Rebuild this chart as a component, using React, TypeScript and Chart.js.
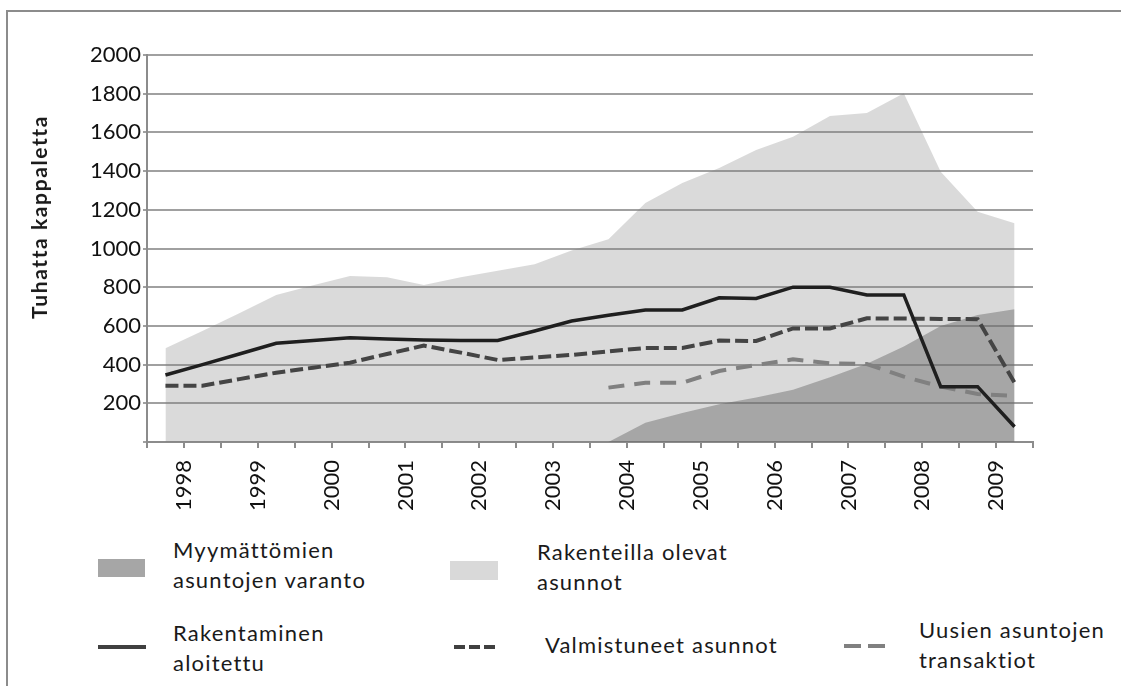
import React, { useEffect, useRef } from 'react';
import { Chart, registerables } from 'chart.js';

Chart.register(...registerables);

// Half-year periods, 1998 H1 ... 2009 H2
const periods = [
  '1998/1', '1998/2', '1999/1', '1999/2', '2000/1', '2000/2', '2001/1', '2001/2',
  '2002/1', '2002/2', '2003/1', '2003/2', '2004/1', '2004/2', '2005/1', '2005/2',
  '2006/1', '2006/2', '2007/1', '2007/2', '2008/1', '2008/2', '2009/1', '2009/2',
];
const yearLabels = ['1998', '1999', '2000', '2001', '2002', '2003', '2004', '2005', '2006', '2007', '2008', '2009'];

// Rakenteilla olevat asunnot (light area)
const underConstruction = [484, 574, 666, 760, 810, 858, 852, 811, 852, 885, 918, 990, 1048, 1235, 1338, 1416, 1509, 1578, 1685, 1700, 1802, 1397, 1190, 1130];
// Myymättömien asuntojen varanto (dark area)
const unsoldStock = [null, null, null, null, null, null, null, null, null, null, null, null, 0, 100, 150, 195, 230, 270, 335, 405, 493, 600, 656, 686];
// Rakentaminen aloitettu (solid line)
const started = [346, 400, 455, 510, 525, 539, 532, 527, 525, 525, 574, 625, 655, 682, 682, 745, 742, 800, 800, 760, 760, 286, 286, 79];
// Valmistuneet asunnot (dark dashed)
const completed = [291, 291, 325, 358, 384, 410, 455, 498, 462, 424, 437, 450, 468, 486, 486, 524, 522, 587, 587, 639, 638, 636, 635, 306];
// Uusien asuntojen transaktiot (light dashed)
const transactions = [null, null, null, null, null, null, null, null, null, null, null, null, 281, 306, 306, 367, 398, 427, 407, 403, 338, 286, 248, 238];

const FONT = 'Lato, "Noto Sans", sans-serif';

const toPoints = (arr: (number | null)[]) => arr.map((v, i) => ({ x: i + 0.5, y: v }));

export default function App() {
  const ref = useRef<HTMLCanvasElement | null>(null);

  useEffect(() => {
    if (!ref.current) return;
    const chart = new Chart(ref.current, {
      type: 'line',
      data: {
        datasets: [
          {
            label: 'Rakentaminen aloitettu',
            data: toPoints(started) as any,
            borderColor: '#1f1f1f',
            borderWidth: 3.5,
            pointRadius: 0,
            fill: false,
            tension: 0,
          },
          {
            label: 'Valmistuneet asunnot',
            data: toPoints(completed) as any,
            borderColor: '#444444',
            borderWidth: 4,
            borderDash: [13, 5],
            pointRadius: 0,
            fill: false,
            tension: 0,
          },
          {
            label: 'Uusien asuntojen transaktiot',
            data: toPoints(transactions) as any,
            borderColor: '#808080',
            borderWidth: 4,
            borderDash: [16, 10],
            pointRadius: 0,
            fill: false,
            tension: 0,
          },
          {
            label: 'Myymättömien asuntojen varanto',
            data: toPoints(unsoldStock) as any,
            borderWidth: 0,
            borderColor: 'rgba(0,0,0,0)',
            backgroundColor: 'rgba(100,100,100,0.44)',
            pointRadius: 0,
            fill: 'origin',
            tension: 0,
          },
          {
            label: 'Rakenteilla olevat asunnot',
            data: toPoints(underConstruction) as any,
            borderWidth: 0,
            borderColor: 'rgba(0,0,0,0)',
            backgroundColor: 'rgba(128,128,128,0.29)',
            pointRadius: 0,
            fill: 'origin',
            tension: 0,
          },
        ],
      },
      options: {
        animation: false,
        responsive: false,
        devicePixelRatio: 1,
        layout: { padding: { left: 0, top: 55, right: 88, bottom: 0 } },
        plugins: {
          legend: { display: false },
          tooltip: { enabled: false },
          title: { display: false },
        },
        scales: {
          x: {
            type: 'linear',
            min: 0,
            max: periods.length,
            afterFit: (s: any) => { s.height = 88; },
            grid: {
              display: true,
              drawOnChartArea: false,
              drawTicks: true,
              tickLength: 6,
              color: '#8c8c8c',
              lineWidth: 2,
            },
            border: { display: true, color: '#8c8c8c', width: 2 },
            ticks: {
              stepSize: 1,
              autoSkip: false,
              minRotation: 90,
              maxRotation: 90,
              padding: 12,
              color: '#111111',
              font: { family: FONT, size: 22 },
              callback: (v: any) => {
                const n = Number(v);
                return n % 2 === 1 ? yearLabels[(n - 1) / 2] : '';
              },
            },
          },
          y: {
            min: 0,
            max: 2000,
            afterFit: (s: any) => { s.width = 147; },
            grid: {
              color: '#a0a0a0',
              lineWidth: 2,
              tickLength: 4,
              drawTicks: true,
            },
            border: { display: true, color: '#8c8c8c', width: 2 },
            ticks: {
              stepSize: 200,
              padding: 2,
              color: '#111111',
              font: { family: FONT, size: 22 },
              callback: (v: any) => (Number(v) === 0 ? '' : String(v)),
            },
          },
        },
      },
    });
    return () => chart.destroy();
  }, []);

  const text: React.CSSProperties = {
    position: 'absolute',
    fontFamily: FONT,
    fontSize: 22,
    lineHeight: '30px',
    letterSpacing: '1.2px',
    color: '#1a1a1a',
    whiteSpace: 'nowrap',
  };

  return (
    <div style={{ position: 'fixed', left: 0, top: 0, width: 1121, height: 686, overflow: 'hidden', background: '#fff' }}>
      <div style={{ position: 'absolute', left: 6, top: 10, width: 1300, height: 900, borderTop: '2px solid #8c8c8c', borderLeft: '2px solid #8c8c8c' }} />
      <canvas ref={ref} width={1121} height={530} style={{ position: 'absolute', left: 0, top: 0, width: 1121, height: 530 }} />
      <div style={{ position: 'absolute', left: 39, top: 217, transform: 'translate(-50%, -50%) rotate(-90deg)', fontFamily: FONT, fontWeight: 700, fontSize: 21, letterSpacing: '1.6px', lineHeight: '22px', whiteSpace: 'nowrap', color: '#1a1a1a' }}>
        Tuhatta kappaletta
      </div>

      {/* Legend row 1 */}
      <div style={{ position: 'absolute', left: 98, top: 559, width: 47, height: 18, background: '#a6a6a6' }} />
      <div style={{ ...text, left: 173, top: 535 }}>Myymättömien<br />asuntojen varanto</div>
      <div style={{ position: 'absolute', left: 450, top: 561, width: 48, height: 19, background: '#d9d9d9' }} />
      <div style={{ ...text, left: 537, top: 537 }}>Rakenteilla olevat<br />asunnot</div>

      {/* Legend row 2 */}
      <div style={{ position: 'absolute', left: 98, top: 645, width: 48, height: 4, background: '#404040' }} />
      <div style={{ ...text, left: 173, top: 618 }}>Rakentaminen<br />aloitettu</div>

      <div style={{ position: 'absolute', left: 454, top: 645, width: 11, height: 4, background: '#404040' }} />
      <div style={{ position: 'absolute', left: 469, top: 645, width: 11, height: 4, background: '#404040' }} />
      <div style={{ position: 'absolute', left: 484, top: 645, width: 11, height: 4, background: '#404040' }} />
      <div style={{ ...text, left: 545, top: 630 }}>Valmistuneet asunnot</div>

      <div style={{ position: 'absolute', left: 844, top: 644, width: 17, height: 4, background: '#808080' }} />
      <div style={{ position: 'absolute', left: 868, top: 644, width: 17, height: 4, background: '#808080' }} />
      <div style={{ ...text, left: 919, top: 615 }}>Uusien asuntojen<br />transaktiot</div>
    </div>
  );
}
